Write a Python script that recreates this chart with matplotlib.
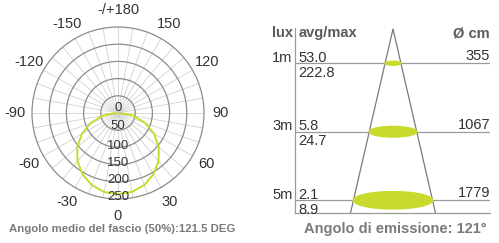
import numpy as np
import matplotlib.pyplot as plt
from matplotlib.patches import Ellipse

plt.rcParams['font.family'] = ['Liberation Sans', 'DejaVu Sans']

#%% Data

# polar curve (half, mirrored on the other side)
angles_deg = [0, 10, 20, 30, 40, 50, 60, 70, 80, 90]
intensity = [236, 233, 223, 206, 183, 155, 121, 84, 45, 6]

angle_ticks = [0, 30, 60, 90, 120, 150, 180, -150, -120, -90, -60, -30]
angle_labels = ['0', '30', '60', '90', '120', '150', '-/+180',
                '-150', '-120', '-90', '-60', '-30']
ring_values = [0, 50, 100, 150, 200, 250]

# cone table
distances = [1, 3, 5]
dist_labels = ['1m', '3m', '5m']
lux_avg = ['53.0', '5.8', '2.1']
lux_max = ['222.8', '24.7', '8.9']
diam_cm = [355, 1067, 1779]

beam_text = 'Angolo medio del fascio (50%):121.5 DEG'
emis_text = 'Angolo di emissione: 121°'

green = '#c8da2c'
W, H = 499, 243

fig = plt.figure(figsize=(W / 100, H / 100), dpi=100)

#%% Polar plot

ax = fig.add_axes([32 / W, 44 / H, 172 / W, 172 / H], projection='polar')
ax.set_theta_zero_location('S')
ax.set_theta_direction(1)
ax.set_ylim(0, 250)
ax.set_yticks([50, 100, 150, 200])
ax.set_yticklabels([])
ax.set_xticks(np.radians(np.arange(0, 360, 10)))
ax.set_xticklabels([])
ax.xaxis.grid(True, color='#d2d2d2', lw=0.6)
ax.yaxis.grid(True, color='#8c8c8c', lw=0.9)
ax.spines['polar'].set_color('#8c8c8c')
ax.spines['polar'].set_linewidth(0.9)

th = np.radians([-a for a in angles_deg[::-1]] + angles_deg[1:])
rr = intensity[::-1] + intensity[1:]
ax.plot(th, rr, color=green, lw=1.4, zorder=3)

for a, lab in zip(angle_ticks, angle_labels):
    ax.text(np.radians(a), 298, lab, ha='center', va='center',
            fontsize=10.5, color='#333333', clip_on=False)

# ring labels down the 0 direction
for v in ring_values:
    if v == 0:
        ax.text(np.pi, 15, '0', ha='center', va='center', fontsize=9.5,
                color='#333333', zorder=4)
    else:
        r = v - 12 if v == 50 else v - 5
        ax.text(0, r, str(v), ha='center', va='center', fontsize=9.5,
                color='#333333', zorder=4)

fig.text(122 / W, 1 - 229 / H, beam_text, ha='center', va='center',
         fontsize=8.2, fontweight='bold', color='#7a7a7a')

#%% Cone plot

ax2 = fig.add_axes([295 / W, 30 / H, 195 / W, 185 / H])
px = 34.25  # pixels per metre in this drawing
y_bot = 184 / px
ax2.set_ylim(y_bot, -1 / px)
ax2.set_xlim(-98 / px, 97 / px)
ax2.set_xticks([])
ax2.set_yticks([])
for s in ['top', 'right']:
    ax2.spines[s].set_visible(False)
for s in ['left', 'bottom']:
    ax2.spines[s].set_color('#9a9a9a')
    ax2.spines[s].set_linewidth(0.9)

slope = 0.231
ax2.plot([-slope * y_bot, 0, slope * y_bot], [y_bot, 0, y_bot],
         color='#7a7a7a', lw=0.9, clip_on=False)

k = 2 * slope / 3.55
for d, dc in zip(distances, diam_cm):
    ax2.axhline(d, color='#9a9a9a', lw=0.9)
    w = dc / 100 * k
    ax2.add_patch(Ellipse((0, d), w, w * 0.21 + 0.02, color=green, zorder=3))

tr = ax2.get_yaxis_transform()
for d, dl, a, m, dc in zip(distances, dist_labels, lux_avg, lux_max, diam_cm):
    ax2.text(-0.012, d - 0.04, dl, transform=tr, ha='right', va='baseline',
             fontsize=10.5, color='#333333')
    ax2.text(0.018, d - 0.04, a, transform=tr, ha='left', va='baseline',
             fontsize=10.5, color='#333333')
    ax2.text(0.018, d + 0.08, m, transform=tr, ha='left', va='top',
             fontsize=10.5, color='#333333')
    ax2.text(1.0, d - 0.09, str(dc), transform=tr, ha='right',
             va='baseline', fontsize=10.5, color='#333333')

ax2.text(-0.012, 0.24, 'lux', transform=tr, ha='right', va='baseline',
         fontsize=10.5, fontweight='bold', color='#5a5a5a')
ax2.text(0.018, 0.24, 'avg/max', transform=tr, ha='left', va='baseline',
         fontsize=10.5, fontweight='bold', color='#5a5a5a')
ax2.text(1.0, 0.24, 'Ø cm', transform=tr, ha='right', va='baseline',
         fontsize=10.5, fontweight='bold', color='#5a5a5a')

fig.text(395 / W, 1 - 229 / H, emis_text, ha='center', va='center',
         fontsize=10.5, fontweight='bold', color='#7a7a7a')

fig.savefig('out.png', dpi=100)
